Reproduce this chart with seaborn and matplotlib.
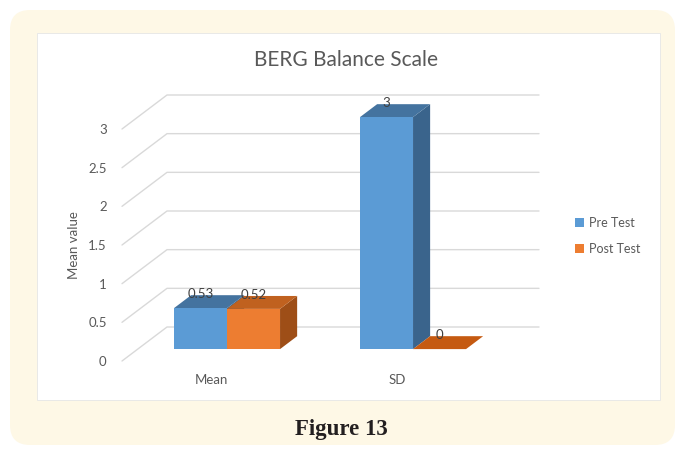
import pandas as pd
import matplotlib
matplotlib.use("Agg")
import matplotlib.pyplot as plt
from matplotlib.patches import FancyBboxPatch, Rectangle, Polygon, Patch
from matplotlib.transforms import Affine2D
import seaborn as sns

# ---- data ----
stats = ["Mean", "SD"]
groups = ["Pre Test", "Post Test"]
pre_test = [0.53, 3]
post_test = [0.52, 0]
y_ticks = [0, 0.5, 1, 1.5, 2, 2.5, 3]

front_cols = {"Pre Test": "#5B9BD5", "Post Test": "#ED7D31"}
top_cols = {"Pre Test": "#44739F", "Post Test": "#C0611F"}
side_cols = {"Pre Test": "#3A648C", "Post Test": "#9E4E17"}

df = pd.DataFrame({
    "stat": stats * 2,
    "group": [groups[0]] * 2 + [groups[1]] * 2,
    "value": pre_test + post_test,
})

sns.set_style("white")
plt.rcParams["font.family"] = ["Lato", "DejaVu Sans"]

W, H = 682, 454
fig = plt.figure(figsize=(W / 100, H / 100), dpi=100)

# beige rounded frame + white chart panel
fig.patches.append(FancyBboxPatch((10 / 100, (H - 445) / 100), 665 / 100, 435 / 100,
                                  boxstyle="round,pad=0,rounding_size=0.2",
                                  transform=fig.dpi_scale_trans, fc="#FEF8E6", ec="none", zorder=-2))
fig.patches.append(Rectangle((37 / 100, (H - 400) / 100), 623 / 100, 367 / 100,
                             transform=fig.dpi_scale_trans, fc="white", ec="#e6e6e6", lw=0.6, zorder=-1))

# front plane of the fake 3D box
ax = fig.add_axes([122 / W, 93 / H, 372 / W, 232 / H])
sns.barplot(data=df, x="stat", y="value", hue="group", hue_order=groups,
            palette=front_cols, width=0.57, saturation=1, legend=False, ax=ax)
xmin, xmax = -0.48, 1.52
ax.set_xlim(xmin, xmax)
ax.set_ylim(0, 3)

DX, DY = 45, 34          # full depth in pixels
f_front, f_back = 0.35, 0.73


def shift(pts, f):
    disp = ax.transData.transform(pts)
    disp[:, 0] += f * DX
    disp[:, 1] += f * DY
    return ax.transData.inverted().transform(disp)


# back wall gridlines
for t in y_ticks:
    a = shift([[xmin, t]], 0)[0]
    b = shift([[xmin, t]], 1)[0]
    c = shift([[xmax, t]], 1)[0]
    ax.plot([a[0], b[0], c[0]], [a[1], b[1], c[1]], color="#d9d9d9", lw=1, clip_on=False, zorder=1)

# turn the flat bars into boxes
bars = []
for cont, g in zip(ax.containers, groups):
    for p in cont.patches:
        bars.append((p.get_x(), p, g))
bars.sort(key=lambda b: b[0])

for i, (x0, p, g) in enumerate(bars):
    w, h = p.get_width(), p.get_height()
    x1 = x0 + w
    top = list(shift([[x0, h], [x1, h]], f_front)) + list(shift([[x1, h], [x0, h]], f_back))
    side = list(shift([[x1, 0], [x1, h]], f_front)) + list(shift([[x1, h], [x1, 0]], f_back))
    z = 3 + 3 * i
    if h > 0:
        ax.add_patch(Polygon(side, closed=True, fc=side_cols[g], ec="none", clip_on=False, zorder=z))
        ax.add_patch(Polygon(top, closed=True, fc=top_cols[g], ec="none", clip_on=False, zorder=z + 1))
    else:
        ax.add_patch(Polygon(top, closed=True, fc="#C55A11", ec="none", clip_on=False, zorder=z + 1))
    p.set_transform(ax.transData + Affine2D().translate(f_front * DX, f_front * DY))
    p.set_zorder(z + 2)
    p.set_clip_on(False)
    p.set_edgecolor("none")
    lab = f"{h:g}"
    ax.annotate(lab, xy=(x0 + w / 2, h), xytext=(f_front * DX, 26), textcoords="offset pixels",
                ha="center", va="center", fontsize=9.5, color="#404040", zorder=30)

ax.set_yticks(y_ticks)
ax.set_yticklabels([f"{t:g}" for t in y_ticks])
ax.tick_params(axis="y", length=0, pad=11, labelsize=9.5, labelcolor="#595959")
ax.tick_params(axis="x", length=0, pad=9, labelsize=9.5, labelcolor="#595959")
ax.set_xlabel("")
ax.set_ylabel("Mean value", fontsize=9.5, color="#595959")
ax.yaxis.set_label_coords((80 - 122) / 372, 0.5)
for s in ax.spines.values():
    s.set_visible(False)
ax.patch.set_visible(False)

handles = [Patch(fc=front_cols[g], ec="none", label=g) for g in groups]
fig.legend(handles=handles, loc="center left", bbox_to_anchor=(564 / W, 1 - 236 / H),
           frameon=False, handlelength=0.7, handleheight=0.7, handletextpad=0.4,
           labelspacing=1.1, fontsize=9, labelcolor="#595959")

fig.text(346 / W, 1 - 60 / H, "BERG Balance Scale", ha="center", va="center",
         fontsize=15, color="#595959")
fig.text(341 / W, 1 - 430 / H, "Figure 13", ha="center", va="center",
         fontfamily="Liberation Serif", fontweight="bold", fontsize=16.5, color="#231f20")

fig.savefig("out.png", dpi=100)
